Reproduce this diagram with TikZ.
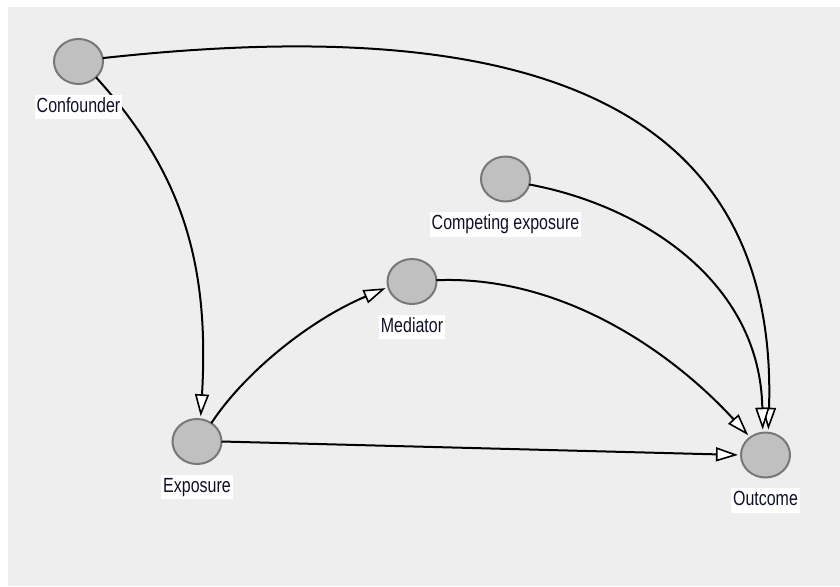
\documentclass[tikz,border=0pt]{standalone}
\usepackage{fontspec}
\setmainfont{Liberation Sans}[FakeStretch=0.78]
\usetikzlibrary{arrows.meta,positioning,shapes.geometric}
\definecolor{bgc}{HTML}{EEEEEE}
\definecolor{nodefill}{HTML}{C0C0C0}
\definecolor{nodeline}{HTML}{777777}
\definecolor{labtext}{HTML}{101028}
\begin{document}
\begin{tikzpicture}[x=1pt,y=-1pt,
  var/.style={ellipse, draw=nodeline, line width=2pt, fill=nodefill,
    minimum width=49pt, minimum height=45pt, inner sep=0pt, outer sep=0pt},
  lab/.style={fill=white, inner xsep=2pt, inner ysep=3pt, outer sep=0pt,
    text height=14.5pt, text depth=4pt, text=labtext,
    font=\fontsize{20.5}{23}\selectfont},
  edge/.style={line width=2pt, draw=black,
    -{Triangle[length=22pt,width=14pt,fill=white,line width=1.6pt]},
    shorten >=3pt}]
\useasboundingbox (0,0) rectangle (840,586);
\fill[bgc] (8,7) rectangle (840,586);

\node[var] (conf) at (78.5,61.5) {};
\node[var] (expo) at (197,441.5) {};
\node[var] (med)  at (412,281.5) {};
\node[var] (comp) at (505.5,179) {};
\node[var] (out)  at (765.5,455) {};

\draw[edge] (conf.8) .. controls (450,20) and (780,60) .. (out.83);
\draw[edge] (conf.-42) .. controls (180,170) and (210,260) .. (expo.81);
\draw[edge] (expo.52) .. controls (245,372) and (310,320) .. (med.193);
\draw[edge] (expo.east) -- (out.west);
\draw[edge] (med.3) .. controls (560,275) and (670,350) .. (out.131);
\draw[edge] (comp.-13) .. controls (640,205) and (760,280) .. (out.97);

\node[lab, below=10.5pt of conf] (confl) {Confounder};
\node[lab, below=10.5pt of expo] (expol) {Exposure};
\node[lab, below=10.5pt of med]  (medl)  {Mediator};
\node[lab, below=10.5pt of comp] (compl) {Competing exposure};
\node[lab, below=10.5pt of out]  (outl)  {Outcome};
\end{tikzpicture}
\end{document}
